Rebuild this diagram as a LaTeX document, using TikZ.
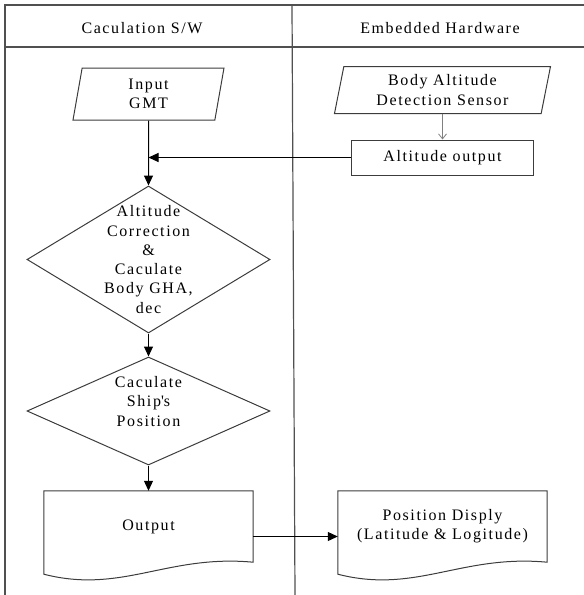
\documentclass[tikz,border=0pt]{standalone}
\usepackage{fontspec}
\setmainfont{Liberation Serif}[LetterSpace=10]
\usepackage{tikz}
\usetikzlibrary{arrows.meta,shapes.geometric}
\definecolor{framegray}{HTML}{505050}
\definecolor{boxgray}{HTML}{3C3C3C}
\definecolor{thingray}{HTML}{808080}

\begin{document}
\begin{tikzpicture}[x=1pt,y=-1pt,
  every node/.style={font=\fontsize{16pt}{19.3pt}\selectfont, align=center, inner sep=0pt},
  frame/.style={draw=framegray, line width=1.2pt},
  box/.style={draw=boxgray, line width=1pt},
  inbox/.style={box, trapezium, trapezium left angle=73, trapezium right angle=107, trapezium stretches body},
  decision/.style={box, diamond, minimum width=243pt},
  doc/.style={minimum width=209pt, minimum height=71pt},
  arr/.style={draw=black, line width=1pt, -{Triangle[length=10pt,width=9pt]}},
  thinarr/.style={draw=thingray, line width=0.8pt, -{Straight Barb[length=5pt,width=8pt]}}]
\useasboundingbox (0,0) rectangle (584,595);
% swim lanes
\draw[frame] (584,5) -- (5,5) -- (5,595);
\draw[frame] (5,47) -- (584,47);
\draw[frame] (292,5) -- (295,595);
\node (hdrsw) at (142,28) {Caculation S/W};
\node (hdrhw) at (440,28) {Embedded Hardware};
% software lane
\node[inbox, minimum width=151pt, minimum height=52pt] (gmt) at (148.5,94) {Input\\GMT};
\node[decision, minimum height=147pt] (corr) at (148.5,259.5) {};
\node (corrtxt) at (corr) {Altitude\\Correction\\\&\\Caculate\\Body GHA,\\dec};
\node[decision, minimum height=108pt] (pos) at (148.5,411) {};
\node[yshift=9.5pt] (postxt) at (pos) {Caculate\\Ship\textquotesingle s\\Position};
\node[doc] (output) at (148.5,526.5) {Output};
% hardware lane
\node[inbox, minimum width=216pt, minimum height=47pt] (sensor) at (442.5,90) {Body Altitude\\Detection Sensor};
\node[box, minimum width=182pt, minimum height=35pt] (altout) at (442.5,157.5) {Altitude output};
\node[doc] (display) at (442.5,526.5) {Position Disply\\(Latitude \& Logitude)};
% document shapes
\draw[box] (output.south east) -- (output.north east) -- (output.north west) -- ([yshift=-12pt]output.south west) .. controls +(78,20) and +(-86,-8) .. cycle;
\draw[box] (display.south east) -- (display.north east) -- (display.north west) -- ([yshift=-12pt]display.south west) .. controls +(78,20) and +(-86,-8) .. cycle;
% connectors
\draw[thinarr] (sensor.south) -- (altout.north);
\draw[arr] (gmt.south) -- (corr.north);
\draw[arr] (altout.west) -- (altout.west -| corr.north);
\draw[arr] (corr.south) -- (pos.north);
\draw[arr] (pos.south) -- (output.north);
\draw[arr] ([yshift=-10pt]output.east) -- ([yshift=-10pt]display.west);
\end{tikzpicture}
\end{document}
